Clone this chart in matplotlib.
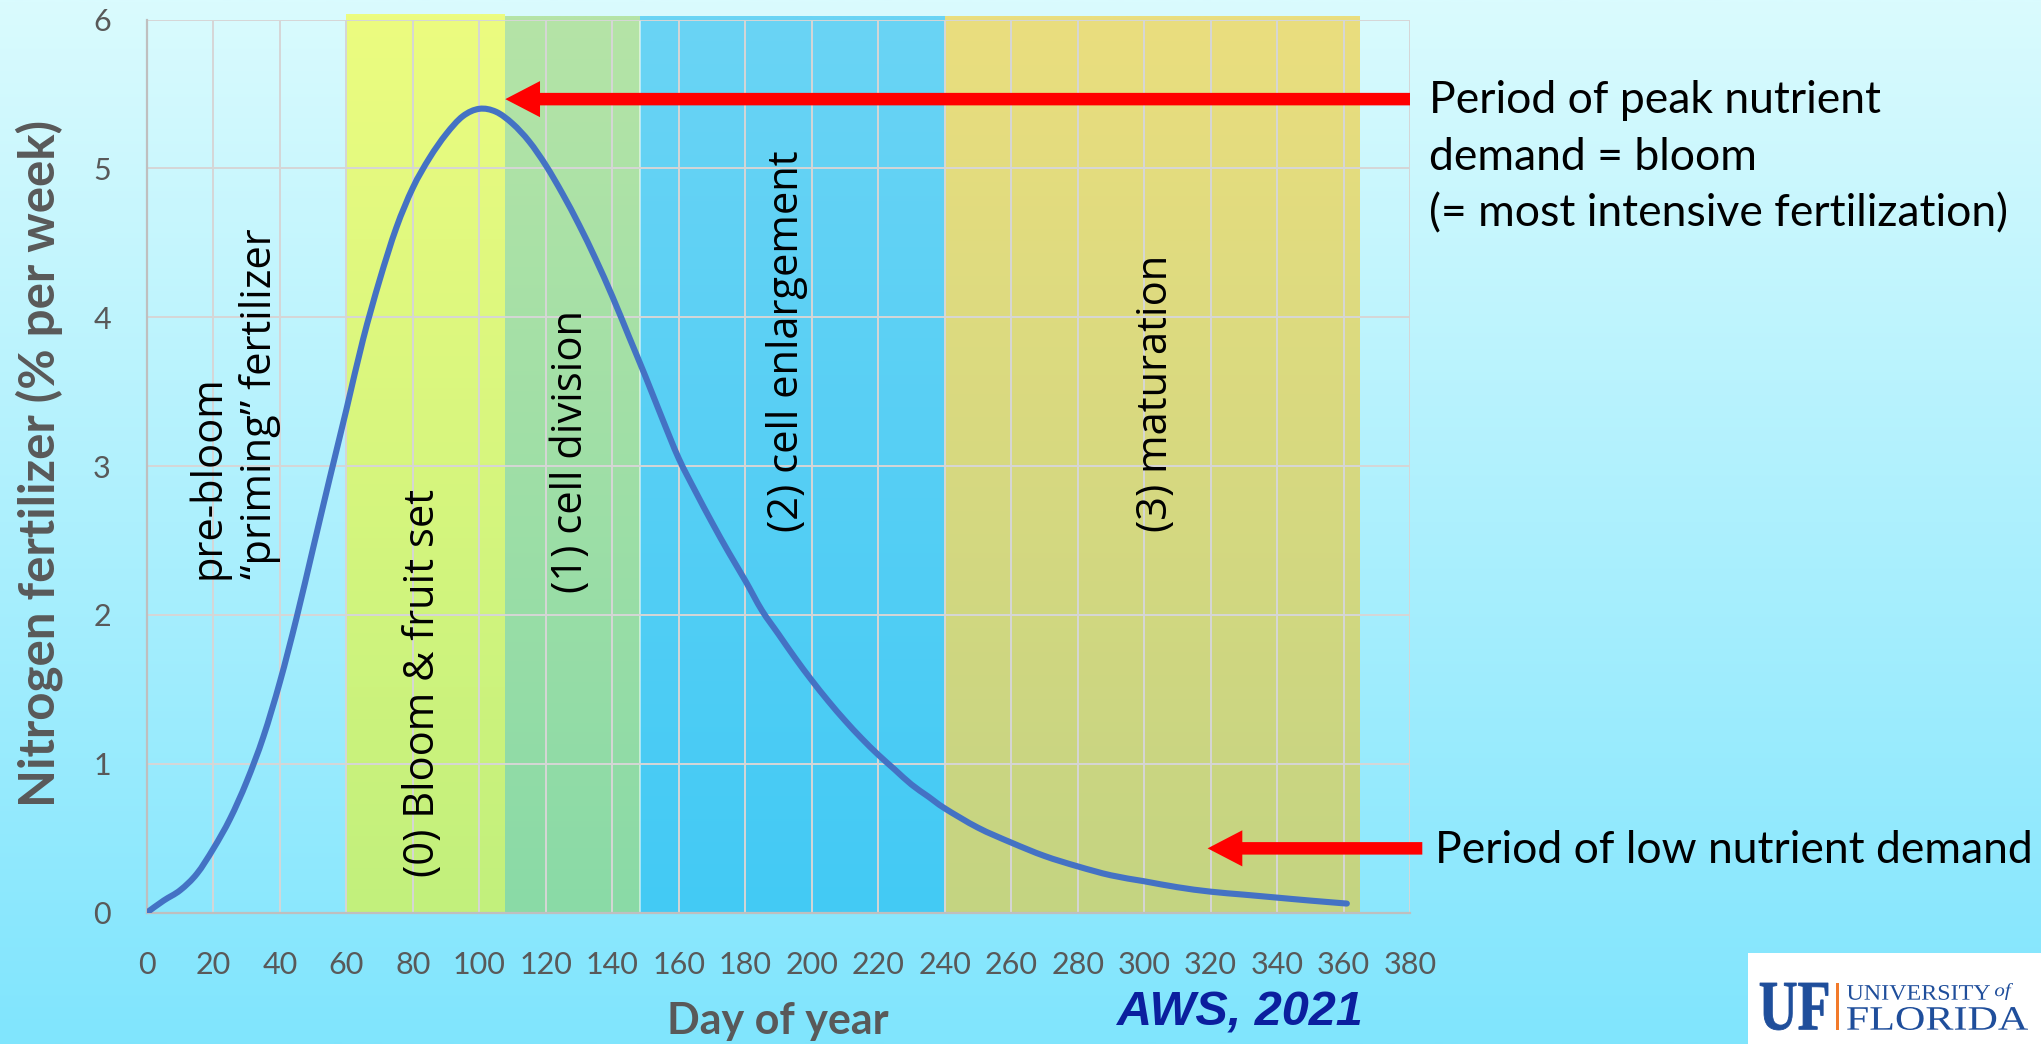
import numpy as np
import matplotlib
matplotlib.use("Agg")
import matplotlib.pyplot as plt
from matplotlib.patches import Rectangle, PathPatch, ArrowStyle
from matplotlib.path import Path
from matplotlib.textpath import TextPath
from matplotlib.font_manager import FontProperties
from matplotlib.transforms import Affine2D

plt.rcParams["font.family"] = ["Lato", "DejaVu Sans"]

# ---- data -------------------------------------------------------------
days = [0, 5, 10, 15, 20, 25, 30, 35, 40, 45, 50, 55, 60, 65, 70, 75, 80, 85,
        90, 95, 100, 105, 110, 115, 120, 125, 130, 135, 140, 145, 150, 155,
        160, 165, 170, 175, 180, 185, 190, 195, 200, 205, 210, 215, 220, 225,
        230, 235, 240, 250, 260, 270, 280, 290, 300, 310, 320, 330, 340, 350,
        361]
nitrogen = [0.00, 0.08, 0.15, 0.26, 0.43, 0.63, 0.88, 1.18, 1.55, 1.98, 2.45,
            2.92, 3.38, 3.85, 4.25, 4.60, 4.87, 5.07, 5.23, 5.35, 5.40, 5.38,
            5.30, 5.18, 5.02, 4.83, 4.62, 4.39, 4.14, 3.87, 3.60, 3.32, 3.05,
            2.83, 2.62, 2.42, 2.23, 2.03, 1.87, 1.71, 1.56, 1.42, 1.29, 1.17,
            1.06, 0.96, 0.86, 0.78, 0.70, 0.57, 0.47, 0.38, 0.31, 0.25, 0.21,
            0.17, 0.14, 0.12, 0.10, 0.08, 0.06]

phase_labels = ["(0) Bloom & fruit set", "(1) cell division",
                "(2) cell enlargement", "(3) maturation"]
phase_start = [60, 107.7, 148.2, 240.2]
phase_end = [107.7, 148.2, 240.2, 365]
phase_top = [(236, 252, 128), (181, 228, 167), (106, 212, 244), (234, 222, 126)]
phase_bottom = [(194, 240, 124), (138, 218, 166), (67, 202, 245), (196, 212, 130)]
phase_label_x = [83.1, 127.5, 192.5, 303.5]
phase_label_y = [1.54, 3.10, 3.84, 3.49]

prebloom_lines = ["pre-bloom", "\u201cpriming\u201d fertilizer"]
prebloom_x = [18.4, 34.0]

x_ticks = list(range(0, 381, 20))
y_ticks = list(range(0, 7))

peak_day, peak_arrow_y = 107.8, 5.465
low_day, low_arrow_y = 319.1, 0.431
peak_note = ["Period of peak nutrient", "demand = bloom",
             "(= most intensive fertilization)"]
peak_note_y = [5.371, 4.990, 4.609]
low_note = "Period of low nutrient demand"

# ---- figure -----------------------------------------------------------
W, H, DPI = 2041, 1044, 100
fig = plt.figure(figsize=(W / DPI, H / DPI), dpi=DPI)

# page background: vertical cyan gradient
bg = fig.add_axes([0, 0, 1, 1], zorder=-10)
bg.axis("off")
grad = np.linspace(np.array([218, 251, 254]), np.array([128, 229, 253]), 256) / 255
bg.imshow(grad[:, None, :], extent=[0, 1, 0, 1], origin="upper",
          aspect="auto", interpolation="bilinear")
bg.set_xlim(0, 1)
bg.set_ylim(0, 1)

ax = fig.add_axes([147 / W, 1 - 912.5 / H, (1410 - 147) / W, (912.5 - 19.5) / H])
ax.set_facecolor("none")

# growth-phase bands
for x0, x1, ct, cb in zip(phase_start, phase_end, phase_top, phase_bottom):
    g = np.linspace(np.array(ct), np.array(cb), 256) / 255
    top = 6.03 if x0 == phase_start[0] else 6.015
    ax.imshow(g[:, None, :], extent=[x0, x1, 0, top], origin="upper",
              aspect="auto", interpolation="bilinear", zorder=0.3, clip_on=False)
for xb in phase_start[2:]:
    ax.plot([xb, xb], [0, 6], color="white", lw=1.2, alpha=0.6, zorder=0.4)

ax.set_xlim(0, 380)
ax.set_ylim(0, 6)
ax.set_xticks(x_ticks)
ax.set_yticks(y_ticks)
ax.grid(True, color="#d6d6d6", lw=1.4)
ax.set_axisbelow("line")
for s in ["top", "right"]:
    ax.spines[s].set_visible(False)
for s in ["left", "bottom"]:
    ax.spines[s].set_color("#bfbfbf")
    ax.spines[s].set_linewidth(1.6)
ax.tick_params(length=0, labelsize=22, labelcolor="#595959")
ax.tick_params(axis="x", pad=28)
ax.tick_params(axis="y", pad=26)

# nitrogen demand curve, drawn as a smoothed (Catmull-Rom / Bezier) line
pts = np.column_stack([days, nitrogen]).astype(float)
ext = np.vstack([pts[0], pts, pts[-1]])
verts = [tuple(pts[0])]
codes = [Path.MOVETO]
for i in range(len(pts) - 1):
    p0, p1, p2, p3 = ext[i], ext[i + 1], ext[i + 2], ext[i + 3]
    c1 = p1 + (p2 - p0) / 6.0
    c2 = p2 - (p3 - p1) / 6.0
    verts += [tuple(c1), tuple(c2), tuple(p2)]
    codes += [Path.CURVE4] * 3
curve = PathPatch(Path(verts, codes), facecolor="none", edgecolor="#4472c4",
                  lw=4.4, capstyle="round", joinstyle="round", zorder=3,
                  transform=ax.transData)
ax.add_patch(curve)

# axis titles
ax.set_xlabel("Day of year", fontsize=31, fontweight="bold", color="#595959")
ax.xaxis.label.set_va("center")
ax.xaxis.set_label_coords(0.4996, -0.1215)
ax.set_ylabel("Nitrogen fertilizer (% per week)", fontsize=35.5,
              fontweight="bold", color="#595959")
ax.yaxis.label.set_va("center")
ax.yaxis.set_label_coords(-0.0855, 0.503)

# phase labels
band_font = ["Open Sans", "DejaVu Sans"]
for txt, lx, ly in zip(phase_labels, phase_label_x, phase_label_y):
    ax.text(lx, ly, txt, rotation=90, ha="center", va="center", fontsize=30,
            family=band_font, color="black", zorder=4)
for txt, lx in zip(prebloom_lines, prebloom_x):
    ax.text(lx, 2.24, txt, rotation=90, ha="center", va="bottom", fontsize=30,
            family=band_font, color="black", zorder=4)

# arrows
arrow_style = ArrowStyle.Simple(head_length=25, head_width=26, tail_width=9)
ax.annotate("", xy=(peak_day, peak_arrow_y), xytext=(380, peak_arrow_y),
            annotation_clip=False,
            arrowprops=dict(arrowstyle=arrow_style, mutation_scale=1,
                            color="#ff0000", lw=0, shrinkA=0, shrinkB=0,
                            clip_on=False), zorder=5)
ax.annotate("", xy=(low_day, low_arrow_y), xytext=(383.7, low_arrow_y),
            annotation_clip=False,
            arrowprops=dict(arrowstyle=arrow_style, mutation_scale=1,
                            color="#ff0000", lw=0, shrinkA=0, shrinkB=0,
                            clip_on=False), zorder=5)

# notes
for txt, ly in zip(peak_note, peak_note_y):
    ax.text(385.7, ly, txt, ha="left", va="baseline", fontsize=32,
            color="black", clip_on=False)
ax.text(387.5, 0.331, low_note, ha="left", va="baseline", fontsize=32,
        color="black", clip_on=False)

fig.text(1240 / W, 1 - 1013 / H, "AWS, 2021", ha="center", va="center",
         fontsize=35, fontweight="bold", fontstyle="italic",
         family=["Liberation Sans", "DejaVu Sans"], color="#0b1f9e")

# logo box (pixel coordinates, origin at bottom-left)
fig.patches.append(Rectangle((1748, 0), W - 1748, H - 953, transform=None,
                             facecolor="white", edgecolor="none", zorder=5))


def fitted_text(s, box, color, style="normal", weight="bold"):
    x0, y0top, x1, y1bot = box
    prop = FontProperties(family="Liberation Serif", weight=weight, style=style)
    tp = TextPath((0, 0), s, size=100, prop=prop)
    e = tp.get_extents()
    sx = (x1 - x0) / e.width
    sy = (y1bot - y0top) / e.height
    tr = (Affine2D().translate(-e.x0, -e.y0).scale(sx, sy)
          .translate(x0, H - y1bot))
    fig.patches.append(PathPatch(tp, transform=tr, facecolor=color,
                                 edgecolor=color, lw=0.6 if weight == "bold" else 0,
                                 zorder=6))


uf_blue = "#1f4e9b"
fitted_text("UF", (1760, 983, 1828, 1030), uf_blue)
fig.patches.append(Rectangle((1836, H - 1030), 2.5, 47, transform=None,
                             facecolor="#f27a2a", edgecolor="none", zorder=6))
fitted_text("UNIVERSITY", (1847, 985, 1990, 1000), uf_blue, weight="normal")
fitted_text("of", (1995, 983, 2013, 1000), uf_blue, style="italic", weight="normal")
fitted_text("FLORIDA", (1847, 1007, 2028, 1030), uf_blue, weight="normal")

fig.savefig("out.png", dpi=DPI)
